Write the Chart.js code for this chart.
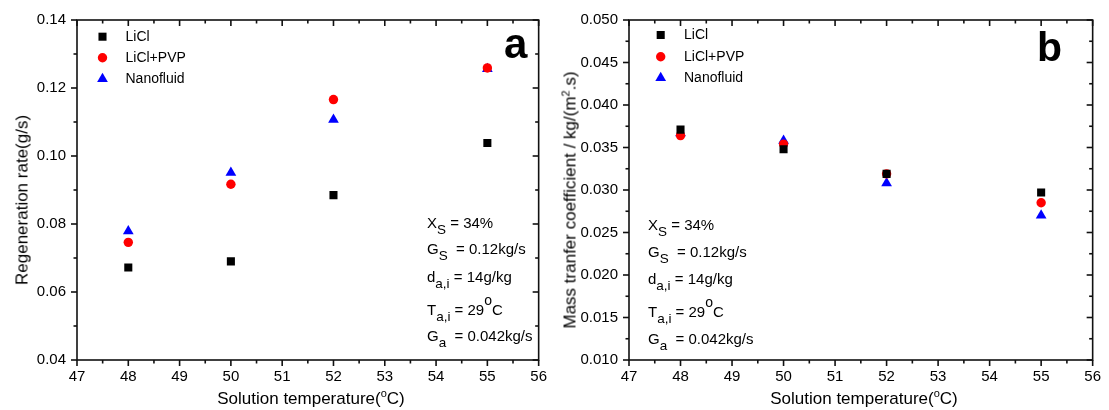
<!DOCTYPE html>
<html><head><meta charset="utf-8">
<script src="https://cdn.jsdelivr.net/npm/chart.js@4.4.1/dist/chart.umd.min.js"></script>
<style>
html,body{margin:0;padding:0;background:#fff;}
#wrap{position:relative;width:1109px;height:410px;overflow:hidden;font-family:'Liberation Sans',Arial,sans-serif;color:#000;}
canvas{position:absolute;top:0;}
.t{position:absolute;white-space:pre;line-height:1;}
.ann{font-size:15px;}
.sb{position:relative;top:6px;font-size:13.5px;}
.sp{position:relative;top:-10px;font-size:14px;}
.ttl{font-size:17px;transform:translate(-50%,-50%);}
.yt{transform:translate(-50%,-50%) rotate(-90deg);}
.xsp{position:relative;top:-7px;font-size:11px;}
.panel{font-weight:bold;}
</style></head>
<body><div id="wrap">
<canvas id="c1" width="555" height="410" style="left:0;width:555px;height:410px"></canvas>
<canvas id="c2" width="554" height="410" style="left:555px;width:554px;height:410px"></canvas>

<div class="t ttl" style="left:311px;top:398px">Solution temperature(<span class="xsp">o</span>C)</div>
<div class="t ttl" style="left:864px;top:398px">Solution temperature(<span class="xsp">o</span>C)</div>
<div class="t ttl yt" style="left:22px;top:200px">Regeneration rate(g/s)</div>
<div class="t ttl yt" style="left:570px;top:200px">Mass tranfer coefficient / kg/(m<span class="xsp" style="top:-6px">2</span>.s)</div>

<div class="t panel" style="left:504px;top:22.5px;font-size:42px">a</div>
<div class="t panel" style="left:1037px;top:27.3px;font-size:41px">b</div>

<div class="t ann" style="left:427px;top:215px">X<span class="sb">S</span> = 34%</div>
<div class="t ann" style="left:427px;top:241px">G<span class="sb">S</span>  = 0.12kg/s</div>
<div class="t ann" style="left:427px;top:268.5px">d<span class="sb">a,i</span> = 14g/kg</div>
<div class="t ann" style="left:427px;top:301.5px">T<span class="sb">a,i</span> = 29<span class="sp">o</span>C</div>
<div class="t ann" style="left:427px;top:328px">G<span class="sb">a</span>  = 0.042kg/s</div>

<div class="t ann" style="left:648px;top:217px">X<span class="sb">S</span> = 34%</div>
<div class="t ann" style="left:648px;top:243.5px">G<span class="sb">S</span>  = 0.12kg/s</div>
<div class="t ann" style="left:648px;top:270.5px">d<span class="sb">a,i</span> = 14g/kg</div>
<div class="t ann" style="left:648px;top:303.5px">T<span class="sb">a,i</span> = 29<span class="sp">o</span>C</div>
<div class="t ann" style="left:648px;top:330.5px">G<span class="sb">a</span>  = 0.042kg/s</div>
</div>
<script>
// ---- data ----
const temps = [48, 50, 52, 55];
const seriesNames = ['LiCl', 'LiCl+PVP', 'Nanofluid'];
const regenLiCl = [0.0672, 0.0690, 0.0885, 0.1038];
const regenPVP  = [0.0746, 0.0917, 0.1166, 0.1259];
const regenNano = [0.0779, 0.0951, 0.1107, 0.1256];
const massLiCl  = [0.0371, 0.0348, 0.0319, 0.0297];
const massPVP   = [0.0364, 0.0354, 0.0319, 0.0285];
const massNano  = [0.0367, 0.0358, 0.0308, 0.0270];
const xTicks     = [47, 48, 49, 50, 51, 52, 53, 54, 55, 56];
const regenTicks = [0.04, 0.06, 0.08, 0.10, 0.12, 0.14];
const massTicks  = [0.010, 0.015, 0.020, 0.025, 0.030, 0.035, 0.040, 0.045, 0.050];

const FONT = "'Liberation Sans', Arial, sans-serif";
const styles = [
  {pointStyle: 'rect', color: '#000000', r: 5.7},
  {pointStyle: 'circle', color: '#ff0000', r: 4.7},
  {pointStyle: 'triangle', color: '#0000ff', r: 6.2}
];

function drawMarker(ctx, style, r, x, y, color) {
  ctx.save();
  ctx.fillStyle = color;
  ctx.beginPath();
  if (style === 'rect') {
    const s = r * Math.SQRT2;
    ctx.rect(x - s / 2, y - s / 2, s, s);
  } else if (style === 'circle') {
    ctx.arc(x, y, r, 0, Math.PI * 2);
  } else {
    ctx.moveTo(x, y - r);
    ctx.lineTo(x + r * Math.sqrt(3) / 2, y + r / 2);
    ctx.lineTo(x - r * Math.sqrt(3) / 2, y + r / 2);
    ctx.closePath();
  }
  ctx.fill();
  ctx.restore();
}

const frameTicks = {
  id: 'frameTicks',
  afterDraw(chart, args, opts) {
    const {ctx, chartArea: a, scales: {x, y}} = chart;
    ctx.save();
    ctx.strokeStyle = '#111';
    ctx.lineWidth = 1.6;
    ctx.strokeRect(a.left, a.top, a.right - a.left, a.bottom - a.top);
    const major = 6, minor = 3.5;
    const line = (x1, y1, x2, y2) => { ctx.beginPath(); ctx.moveTo(x1, y1); ctx.lineTo(x2, y2); ctx.stroke(); };
    const nx = Math.round((x.max - x.min) / opts.xMinor);
    for (let i = 0; i <= nx; i++) {
      const v = x.min + i * opts.xMinor;
      const L = (i % 2 === 0) ? major : minor;
      const px = x.getPixelForValue(v);
      line(px, a.bottom, px, a.bottom + L);
      line(px, a.top, px, a.top + L);
    }
    const ny = Math.round((y.max - y.min) / opts.yMinor);
    for (let i = 0; i <= ny; i++) {
      const v = y.min + i * opts.yMinor;
      const L = (i % 2 === 0) ? major : minor;
      const py = y.getPixelForValue(v);
      line(a.left - L, py, a.left, py);
      line(a.right - L, py, a.right, py);
    }
    ctx.restore();
    // legend
    const lg = opts.legend;
    chart.data.datasets.forEach((ds, i) => {
      const yy = lg.y[i];
      drawMarker(ctx, ds.pointStyle, ds.pointRadius, lg.mx, yy, ds.backgroundColor);
      ctx.save();
      ctx.fillStyle = '#000';
      ctx.font = '14px ' + FONT;
      ctx.textBaseline = 'middle';
      ctx.fillText(ds.label, lg.tx, yy + 0.5);
      ctx.restore();
    });
  }
};

function makeChart(id, series, yMin, yMax, yTicks, yMinor, dec, yWidth, padTop, legend) {
  const datasets = series.map((vals, i) => ({
    label: seriesNames[i],
    data: temps.map((t, k) => ({x: t, y: vals[k]})),
    pointStyle: styles[i].pointStyle,
    pointRadius: styles[i].r,
    pointHoverRadius: styles[i].r,
    backgroundColor: styles[i].color,
    borderColor: styles[i].color,
    pointBorderWidth: 0,
    borderWidth: 0,
    showLine: false
  }));
  return new Chart(document.getElementById(id), {
    type: 'scatter',
    data: {datasets},
    plugins: [frameTicks],
    options: {
      responsive: false,
      animation: false,
      devicePixelRatio: 1,
      layout: {padding: {top: padTop, right: 10, left: 0, bottom: 0}},
      plugins: {
        legend: {display: false},
        tooltip: {enabled: false},
        frameTicks: {xMinor: 0.5, yMinor: yMinor, legend: legend}
      },
      scales: {
        x: {
          type: 'linear', min: 47, max: 56,
          afterBuildTicks: s => { s.ticks = xTicks.map(v => ({value: v})); },
          afterFit: s => { s.height = 50; },
          grid: {display: false, drawTicks: false},
          border: {display: false},
          ticks: {font: {family: FONT, size: 15}, color: '#000', padding: 8, maxRotation: 0, autoSkip: false,
                  callback: v => String(v)}
        },
        y: {
          type: 'linear', min: yMin, max: yMax,
          afterBuildTicks: s => { s.ticks = yTicks.map(v => ({value: v})); },
          afterFit: s => { s.width = yWidth; },
          grid: {display: false, drawTicks: false},
          border: {display: false},
          ticks: {font: {family: FONT, size: 15}, color: '#000', padding: 11, autoSkip: false,
                  callback: v => Number(v).toFixed(dec)}
        }
      }
    }
  });
}

makeChart('c1', [regenLiCl, regenPVP, regenNano], 0.04, 0.14, regenTicks, 0.01, 2, 77, 17,
          {mx: 102.5, tx: 125.5, y: [36.7, 57.8, 79]});
makeChart('c2', [massLiCl, massPVP, massNano], 0.010, 0.050, massTicks, 0.0025, 3, 74, 16,
          {mx: 105.7, tx: 129, y: [35, 56.7, 78]});
</script>
</body></html>
